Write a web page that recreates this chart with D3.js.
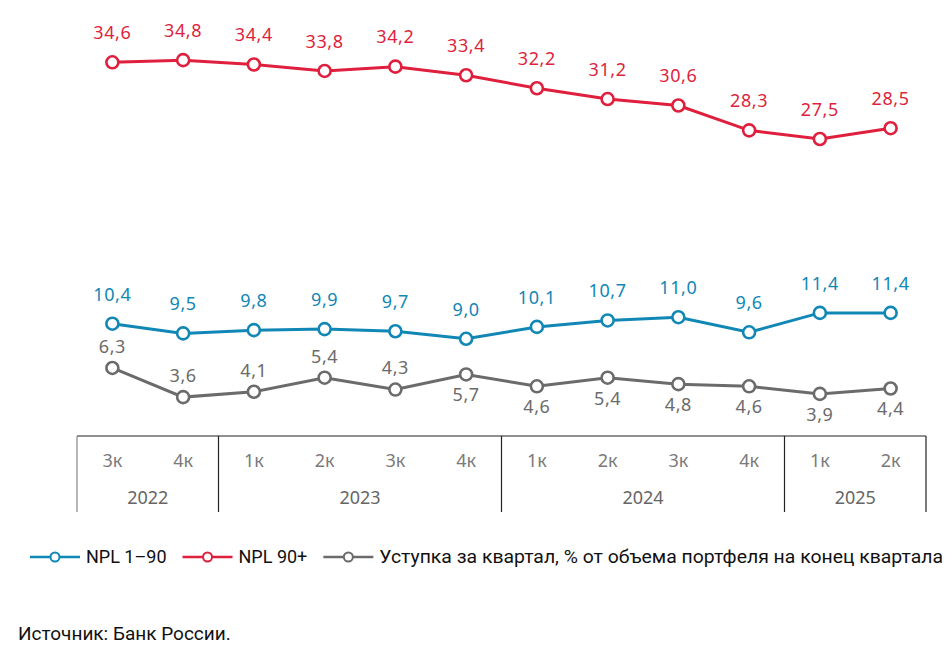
<!DOCTYPE html>
<html lang="ru">

<head>
    <meta charset="UTF-8">
    <title>NPL и уступка</title>
    <script src="https://d3js.org/d3.v7.min.js"></script>
    <style>
        body {
            margin: 0;
            background: #fff;
            font-family: "Noto Sans", Arial, sans-serif;
        }

        .value-label {
            font-size: 18px;
            letter-spacing: 0.6px;
            text-anchor: middle;
            dominant-baseline: middle;
        }

        .axis-text {
            font-size: 18px;
            text-anchor: middle;
            dominant-baseline: middle;
        }

        .legend-text,
        .source {
            font-family: Roboto, "Noto Sans", sans-serif;
            font-size: 18px;
            fill: #111;
        }

        .source {
            font-size: 19px;
        }
    </style>
</head>

<body>
    <svg width="952" height="652"></svg>

    <script>
        // данные
        const quarters = ['3к', '4к', '1к', '2к', '3к', '4к', '1к', '2к', '3к', '4к', '1к', '2к'];
        const years = ['2022', '2023', '2024', '2025'];
        const quartersPerYear = [2, 4, 4, 2];
        const npl190 = [10.4, 9.5, 9.8, 9.9, 9.7, 9.0, 10.1, 10.7, 11.0, 9.6, 11.4, 11.4];
        const npl90 = [34.6, 34.8, 34.4, 33.8, 34.2, 33.4, 32.2, 31.2, 30.6, 28.3, 27.5, 28.5];
        const cession = [6.3, 3.6, 4.1, 5.4, 4.3, 5.7, 4.6, 5.4, 4.8, 4.6, 3.9, 4.4];
        const cessionLabelSide = ['up', 'up', 'up', 'up', 'up', 'down', 'down', 'down', 'down', 'down', 'down', 'down'];

        const series = [
            { name: 'NPL 1–90', values: npl190, color: '#1187b5' },
            { name: 'NPL 90+', values: npl90, color: '#df1f3d' },
            { name: 'Уступка за квартал, % от объема портфеля на конец квартала', values: cession, color: '#6b6b6b' }
        ];

        const svg = d3.select('svg');
        const fmt = v => d3.format('.1f')(v).replace('.', ',');

        const x = d3.scaleBand()
            .domain(d3.range(quarters.length))
            .range([77, 926])
            .padding(0);

        const y = d3.scaleLinear()
            .domain([0, 40])
            .range([436, 4]);

        const cx = i => x(i) + x.bandwidth() / 2;

        // ось-таблица снизу
        const axis = svg.append('g');
        axis.append('line')
            .attr('x1', x.range()[0]).attr('x2', x.range()[1])
            .attr('y1', y(0)).attr('y2', y(0))
            .attr('stroke', '#222').attr('stroke-width', 1.2);

        let start = 0;
        const bounds = [0];
        quartersPerYear.forEach(n => { start += n; bounds.push(start); });
        const edge = b => b < quarters.length ? x(b) : x.range()[1];

        bounds.forEach((b, i) => {
            axis.append('line')
                .attr('x1', edge(b)).attr('x2', edge(b))
                .attr('y1', y(0)).attr('y2', 512)
                .attr('stroke', i === 0 ? '#888' : '#222').attr('stroke-width', 1.2);
        });

        axis.selectAll('.q')
            .data(quarters)
            .enter().append('text')
            .attr('class', 'axis-text')
            .attr('x', (d, i) => cx(i))
            .attr('y', 462)
            .attr('fill', '#7a7a7a')
            .text(d => d);

        axis.selectAll('.yr')
            .data(years)
            .enter().append('text')
            .attr('class', 'axis-text')
            .attr('x', (d, i) => (edge(bounds[i]) + edge(bounds[i + 1])) / 2)
            .attr('y', 499)
            .attr('fill', '#666')
            .text(d => d);

        // линии
        const line = d3.line()
            .x((d, i) => cx(i))
            .y(d => y(d));

        series.forEach((s, si) => {
            const g = svg.append('g');
            g.append('path')
                .datum(s.values)
                .attr('fill', 'none')
                .attr('stroke', s.color)
                .attr('stroke-width', 3)
                .attr('d', line);

            g.selectAll('circle')
                .data(s.values)
                .enter().append('circle')
                .attr('cx', (d, i) => cx(i))
                .attr('cy', d => y(d))
                .attr('r', 6)
                .attr('fill', '#fff')
                .attr('stroke', s.color)
                .attr('stroke-width', 2.6);

            g.selectAll('text')
                .data(s.values)
                .enter().append('text')
                .attr('class', 'value-label')
                .attr('x', (d, i) => cx(i))
                .attr('y', (d, i) => {
                    if (si < 2) return y(d) - 28;
                    return cessionLabelSide[i] === 'up' ? y(d) - 20 : y(d) + 22;
                })
                .attr('fill', s.color)
                .text(d => fmt(d));
        });

        // легенда
        const legend = svg.append('g').attr('transform', 'translate(30,557)');
        let lx = 0;
        series.forEach((s, i) => {
            const item = legend.append('g').attr('transform', `translate(${lx},0)`);
            item.append('line')
                .attr('x1', 0).attr('x2', 50)
                .attr('stroke', s.color).attr('stroke-width', 2.6);
            item.append('circle')
                .attr('cx', 25).attr('r', 4.5)
                .attr('fill', '#fff')
                .attr('stroke', s.color).attr('stroke-width', 2);
            const t = item.append('text')
                .attr('class', 'legend-text')
                .attr('x', 56)
                .attr('dy', '0.35em')
                .text(s.name);
            if (i === series.length - 1) {
                t.attr('textLength', 943 - 30 - lx - 56).attr('lengthAdjust', 'spacingAndGlyphs');
            }
            lx += 56 + t.node().getComputedTextLength() + 16;
        });

        svg.append('text')
            .attr('class', 'source')
            .attr('x', 18)
            .attr('y', 640)
            .text('Источник: Банк России.');
    </script>
</body>

</html>
